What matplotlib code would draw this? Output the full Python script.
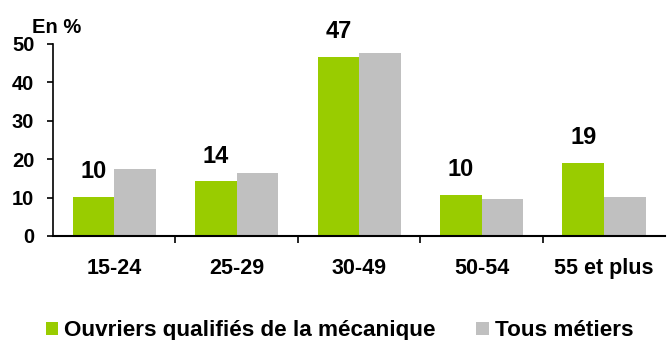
import matplotlib.pyplot as plt
import numpy as np

plt.rcParams['font.family'] = ['Liberation Sans', 'DejaVu Sans']

categories = ["15-24", "25-29", "30-49", "50-54", "55 et plus"]
ouvriers = [10.2, 14.3, 46.6, 10.7, 19.0]
tous = [17.4, 16.4, 47.7, 9.6, 10.2]
labels = ["10", "14", "47", "10", "19"]

green = "#99CC00"
gray = "#C0C0C0"

fig = plt.figure(figsize=(6.67, 3.4), dpi=100)
ax = fig.add_axes([0.0795, 0.306, 0.918, 0.565])

x = np.arange(len(categories))
w = 0.34
ax.bar(x - w / 2, ouvriers, w, color=green, label="Ouvriers qualifiés de la mécanique")
ax.bar(x + w / 2, tous, w, color=gray, label="Tous métiers")

for xi, v, t in zip(x, ouvriers, labels):
    ax.text(xi - w / 2, v + 6.5, t, ha="center", va="center",
            fontsize=17, fontweight="bold", clip_on=False)

ax.set_xlim(-0.5, len(categories) - 0.5)
ax.set_ylim(0, 50)
ax.set_yticks(range(0, 51, 10))
ax.set_xticks(x)
ax.set_xticklabels(categories, fontsize=15.5, fontweight="bold")
ax.tick_params(axis="x", length=0, pad=16)
ax.set_xticks(np.arange(0.5, len(categories) - 0.5, 1), minor=True)
ax.tick_params(axis="x", which="minor", length=5, width=1.2, direction="out")
ax.tick_params(axis="y", length=4.5, width=1.2, labelsize=14.5, pad=9)
for lab in ax.get_yticklabels():
    lab.set_fontweight("bold")

for s in ["top", "right"]:
    ax.spines[s].set_visible(False)
ax.spines["left"].set_linewidth(1.2)
ax.spines["bottom"].set_linewidth(1.5)

fig.text(0.048, 0.92, "En %", fontsize=14.5, fontweight="bold", va="center")

fig.legend(loc="center left", bbox_to_anchor=(35 / 667, 0.027), ncol=2, frameon=False,
           borderpad=0, prop={"size": 16.2, "weight": "bold"},
           handlelength=0.54, handleheight=0.54,
           handletextpad=0.27, columnspacing=1.8)

fig.savefig("out.png", dpi=100)
